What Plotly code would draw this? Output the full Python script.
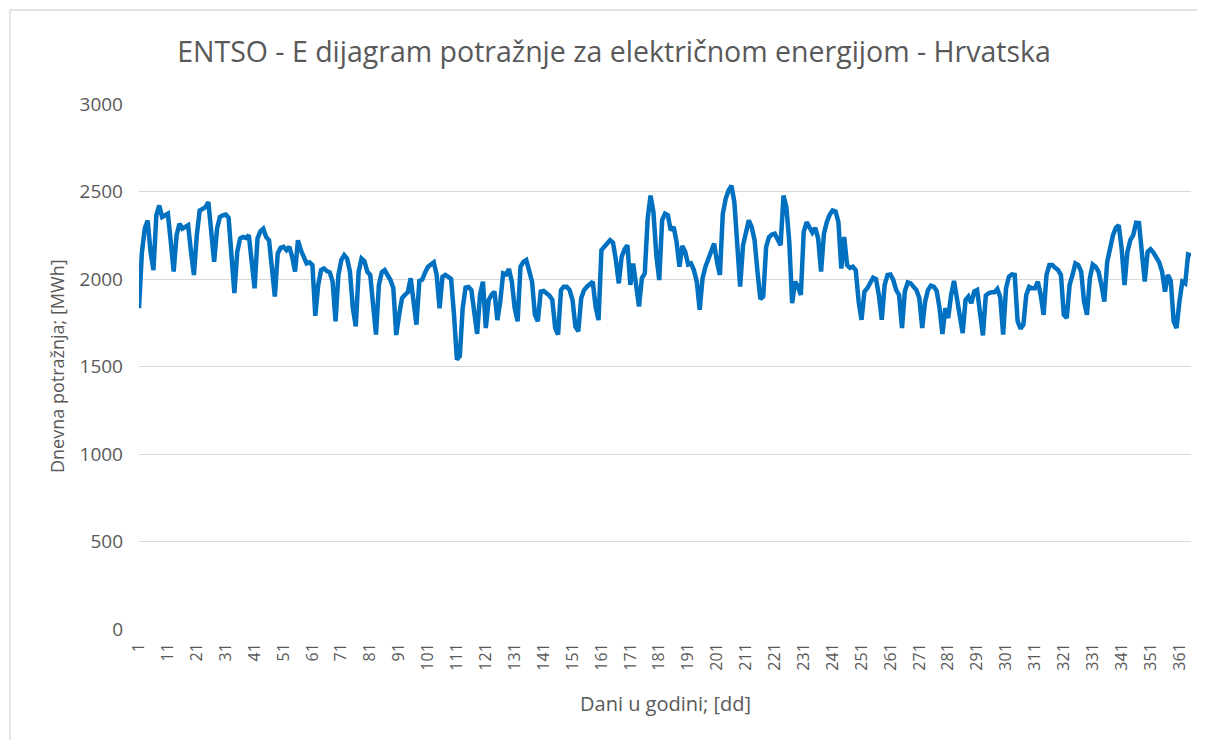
import plotly.graph_objects as go

# ---------------- data ----------------
days = list(range(1, 366))

demand = [
    1833, 2150, 2288, 2335, 2155, 2051, 2364, 2420, 2354, 2364,
    2373, 2212, 2042, 2250, 2316, 2288, 2297, 2307, 2155, 2023,
    2250, 2392, 2400, 2410, 2440, 2270, 2098, 2288, 2354, 2364,
    2368, 2350, 2136, 1919, 2155, 2231, 2240, 2235, 2250, 2098,
    1947, 2231, 2273, 2288, 2240, 2221, 2060, 1900, 2146, 2178,
    2184, 2165, 2184, 2127, 2042, 2221, 2165, 2127, 2089, 2095,
    2080, 1790, 1966, 2051, 2060, 2045, 2038, 1985, 1758, 2023,
    2108, 2136, 2117, 2042, 1833, 1729, 2042, 2117, 2102, 2042,
    2023, 1852, 1682, 1966, 2038, 2051, 2023, 1994, 1947, 1680,
    1795, 1890, 1909, 1924, 2004, 1871, 1739, 1989, 1997, 2037,
    2070, 2083, 2095, 2023, 1833, 2013, 2023, 2013, 2000, 1795,
    1540, 1559, 1833, 1951, 1955, 1937, 1795, 1686, 1909, 1985,
    1720, 1880, 1909, 1928, 1765, 1870, 2032, 2026, 2057, 1985,
    1833, 1758, 2070, 2098, 2108, 2032, 1985, 1795, 1758, 1928,
    1932, 1919, 1905, 1881, 1720, 1682, 1937, 1956, 1956, 1937,
    1881, 1729, 1701, 1890, 1937, 1956, 1970, 1985, 1840, 1765,
    2165, 2189, 2203, 2222, 2208, 2110, 1975, 2127, 2170, 2193,
    1966, 2089, 1947, 1843, 2004, 2032, 2345, 2477, 2383, 2136,
    1994, 2335, 2373, 2364, 2278, 2297, 2212, 2070, 2189, 2155,
    2083, 2089, 2051, 1985, 1824, 2004, 2070, 2120, 2165, 2203,
    2098, 2023, 2373, 2458, 2506, 2534, 2440, 2231, 1956, 2193,
    2278, 2335, 2297, 2221, 2042, 1886, 1900, 2184, 2240, 2254,
    2259, 2231, 2193, 2477, 2411, 2212, 1862, 1985, 1956, 1909,
    2269, 2325, 2288, 2265, 2292, 2231, 2042, 2260, 2326, 2368,
    2392, 2386, 2326, 2060, 2240, 2080, 2064, 2070, 2051, 1871,
    1767, 1928, 1947, 1975, 2008, 2000, 1909, 1767, 1966, 2023,
    2026, 1994, 1937, 1909, 1720, 1930, 1981, 1975, 1956, 1937,
    1890, 1720, 1871, 1937, 1962, 1956, 1932, 1833, 1686, 1833,
    1777, 1909, 1989, 1890, 1758, 1691, 1881, 1900, 1862, 1928,
    1937, 1795, 1678, 1905, 1919, 1924, 1924, 1943, 1895, 1682,
    1947, 2013, 2026, 2023, 1760, 1716, 1739, 1909, 1955, 1947,
    1947, 1985, 1909, 1795, 2023, 2080, 2080, 2064, 2051, 2023,
    1795, 1777, 1966, 2023, 2089, 2080, 2042, 1871, 1795, 2004,
    2083, 2070, 2042, 1966, 1871, 2098, 2184, 2250, 2292, 2307,
    2174, 1966, 2155, 2222, 2250, 2322, 2320, 2174, 1985, 2155,
    2170, 2151, 2127, 2095, 2042, 1928, 2023, 1989, 1758, 1720,
    1871, 1985, 1975, 2140, 2135,
]

x_tick_vals = list(range(1, 366, 10))
x_tick_text = [str(v) for v in x_tick_vals]
y_tick_vals = [0, 500, 1000, 1500, 2000, 2500, 3000]

title_text = "ENTSO - E dijagram potražnje za električnom energijom - Hrvatska"
x_title = "Dani u godini; [dd]"
y_title = "Dnevna potražnja; [MWh]"

# ---------------- layout geometry ----------------
OX, OY = 8, 8            # page offset of the figure (body margin)
W, H = 1205 - OX, 740 - OY
PLOT_LEFT, PLOT_RIGHT, PLOT_TOP, PLOT_BOTTOM = 139, 1191, 104, 629   # page px
L = PLOT_LEFT - OX
T = PLOT_TOP - OY
R = (W + OX) - PLOT_RIGHT
B = (H + OY) - PLOT_BOTTOM
PW = W - L - R
PH = H - T - B
TXT = "#595959"
GRID = "#D9D9D9"
FONT = "Open Sans"


def px2x(px):
    return (px - PLOT_LEFT) / PW


def py2y(py):
    return (PLOT_BOTTOM - py) / PH


fig = go.Figure()
fig.add_trace(go.Scatter(
    x=days, y=demand, mode="lines",
    line=dict(color="#0070C0", width=4.5),
    hoverinfo="x+y", showlegend=False,
))

fig.update_layout(
    width=W, height=H,
    margin=dict(l=L, r=R, t=T, b=B, pad=0),
    paper_bgcolor="white", plot_bgcolor="white",
    font=dict(family=FONT, color=TXT),
    showlegend=False,
    title=dict(
        text=title_text, xref="container", x=(614 - OX) / W, xanchor="center",
        yref="container", y=1 - (52 - OY) / H, yanchor="middle",
        font=dict(family=FONT, size=28.5, color=TXT),
    ),
)

fig.update_xaxes(
    range=[1, 365], tickmode="array", tickvals=x_tick_vals, ticktext=x_tick_text,
    tickangle=-90, showgrid=False, zeroline=False, showline=False, ticks="",
    tickfont=dict(family=FONT, size=16, color=TXT), ticklabelstandoff=10,
)
fig.update_yaxes(
    range=[0, 3000], tickmode="array", tickvals=y_tick_vals,
    showgrid=True, gridcolor=GRID, gridwidth=1.3, zeroline=False, showline=False,
    ticks="", tickfont=dict(family=FONT, size=19, color=TXT), ticklabelstandoff=15,
)

fig.add_annotation(
    text=y_title, xref="paper", yref="paper", x=px2x(57), y=py2y(366),
    textangle=-90, showarrow=False, xanchor="center", yanchor="middle",
    font=dict(family=FONT, size=18, color=TXT),
)
fig.add_annotation(
    text=x_title, xref="paper", yref="paper", x=px2x(665), y=py2y(703),
    showarrow=False, xanchor="center", yanchor="middle",
    font=dict(family=FONT, size=20, color=TXT),
)

# chart-area border
fig.add_shape(
    type="rect", xref="paper", yref="paper",
    x0=px2x(10), x1=px2x(1203), y0=py2y(760), y1=py2y(10),
    line=dict(color=GRID, width=1.3), fillcolor="rgba(0,0,0,0)", layer="below",
)

fig.write_html("out.html")
